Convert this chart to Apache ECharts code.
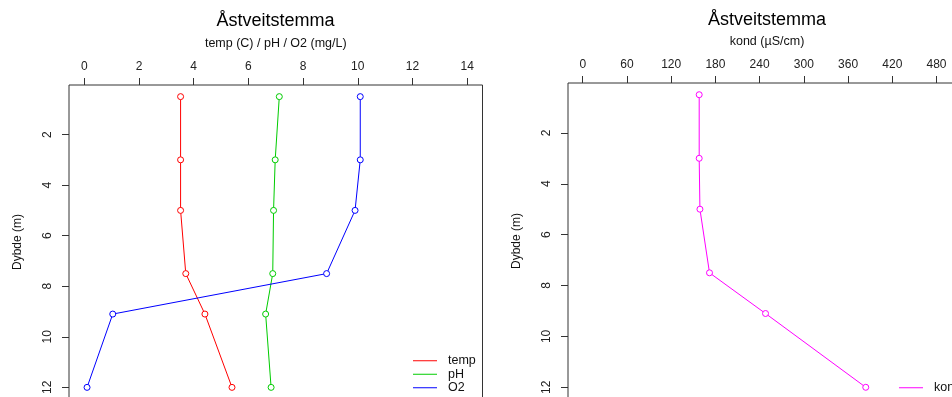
<!DOCTYPE html>
<html><head><meta charset="utf-8">
<script src="https://cdn.jsdelivr.net/npm/echarts@6/dist/echarts.min.js"></script>
<style>html,body{margin:0;padding:0;background:#fff}#c{width:952px;height:397px}</style>
</head><body><div id="c"></div>
<script>
const depths = [0.5, 3, 5, 7.5, 9.1, 12];
const temp = [3.52, 3.52, 3.52, 3.71, 4.41, 5.40];
const pH = [7.13, 6.98, 6.92, 6.89, 6.63, 6.83];
const O2 = [10.09, 10.09, 9.90, 8.86, 1.04, 0.10];
const kond = [158, 158, 159, 172, 248, 384];
const leftTicks = [0, 2, 4, 6, 8, 10, 12, 14];
const rightTicks = [0, 60, 120, 180, 240, 300, 360, 420, 480];
const depthTicks = [2, 4, 6, 8, 10, 12];
const titleText = 'Åstveitstemma';
const leftAxisName = 'temp (C) / pH / O2 (mg/L)';
const rightAxisName = 'kond (µS/cm)';
const depthName = 'Dybde (m)';

const FONT = '"Liberation Sans", Arial, sans-serif';
const AX = '#333';
const COLORS = {temp: '#FF0000', pH: '#00CC00', O2: '#0000FF', kond: '#FF00FF'};

function xAxis(gi, min, max, ticks, name) {
  return {
    type: 'value', gridIndex: gi, position: 'top', min: min, max: max,
    name: name, nameLocation: 'middle', nameGap: 35,
    nameTextStyle: {fontFamily: FONT, fontSize: 12.5, color: '#111'},
    axisLine: {show: false, onZero: false},
    axisTick: {show: true, inside: false, length: 7, lineStyle: {color: AX}, customValues: ticks},
    axisLabel: {fontFamily: FONT, fontSize: 12, color: '#222', margin: 12, customValues: ticks},
    splitLine: {show: false}
  };
}
function yAxis(gi) {
  return {
    type: 'value', gridIndex: gi, inverse: true, min: 0.04, max: 12.46, position: 'left',
    name: depthName, nameLocation: 'middle', nameGap: 45,
    nameTextStyle: {fontFamily: FONT, fontSize: 12, color: '#111'},
    axisLine: {show: false, onZero: false},
    axisTick: {show: true, inside: false, length: 7, lineStyle: {color: AX}, customValues: depthTicks},
    axisLabel: {fontFamily: FONT, fontSize: 12, color: '#222', margin: 15, rotate: 90, customValues: depthTicks},
    splitLine: {show: false}
  };
}
function ser(name, vals, gi) {
  const color = COLORS[name];
  return {
    name: name, type: 'line', xAxisIndex: gi, yAxisIndex: gi,
    data: vals.map((v, i) => [v, depths[i]]),
    symbol: 'circle', symbolSize: 6, showSymbol: true,
    lineStyle: {color: color, width: 1},
    itemStyle: {color: '#fff', borderColor: color, borderWidth: 1},
    emphasis: {disabled: true}, animation: false
  };
}
function legend(names, left, top) {
  return {
    orient: 'vertical', itemWidth: 24, itemHeight: 1, itemGap: 0, icon: 'rect', padding: 0,
    left: left, top: top,
    textStyle: {fontFamily: FONT, fontSize: 12.5, color: '#111', lineHeight: 13.5, padding: [0, 0, 0, 6]},
    selectedMode: false,
    data: names.map(n => ({name: n, itemStyle: {color: COLORS[n], borderWidth: 0}}))
  };
}
const chart = echarts.init(document.getElementById('c'), null, {renderer: 'canvas'});
chart.setOption({
  animation: false,
  backgroundColor: '#fff',
  title: [
    {text: titleText, left: 275.5, top: 12, textAlign: 'center', padding: 0,
     textStyle: {fontFamily: FONT, fontSize: 18, fontWeight: 'normal', color: '#000'}},
    {text: titleText, left: 767, top: 11, textAlign: 'center', padding: 0,
     textStyle: {fontFamily: FONT, fontSize: 18, fontWeight: 'normal', color: '#000'}}
  ],
  grid: [
    {left: 69, top: 85, width: 413.5, height: 314, show: true, borderColor: AX, borderWidth: 1, backgroundColor: 'transparent', containLabel: false, outerBoundsMode: 'none'},
    {left: 568, top: 83, width: 398, height: 316, show: true, borderColor: AX, borderWidth: 1, backgroundColor: 'transparent', containLabel: false, outerBoundsMode: 'none'}
  ],
  xAxis: [xAxis(0, -0.56, 14.56, leftTicks, leftAxisName), xAxis(1, -20, 520, rightTicks, rightAxisName)],
  yAxis: [yAxis(0), yAxis(1)],
  legend: [legend(['temp', 'pH', 'O2'], 413, 354), legend(['kond'], 899, 381)],
  series: [ser('temp', temp, 0), ser('pH', pH, 0), ser('O2', O2, 0), ser('kond', kond, 1)]
});
</script></body></html>
